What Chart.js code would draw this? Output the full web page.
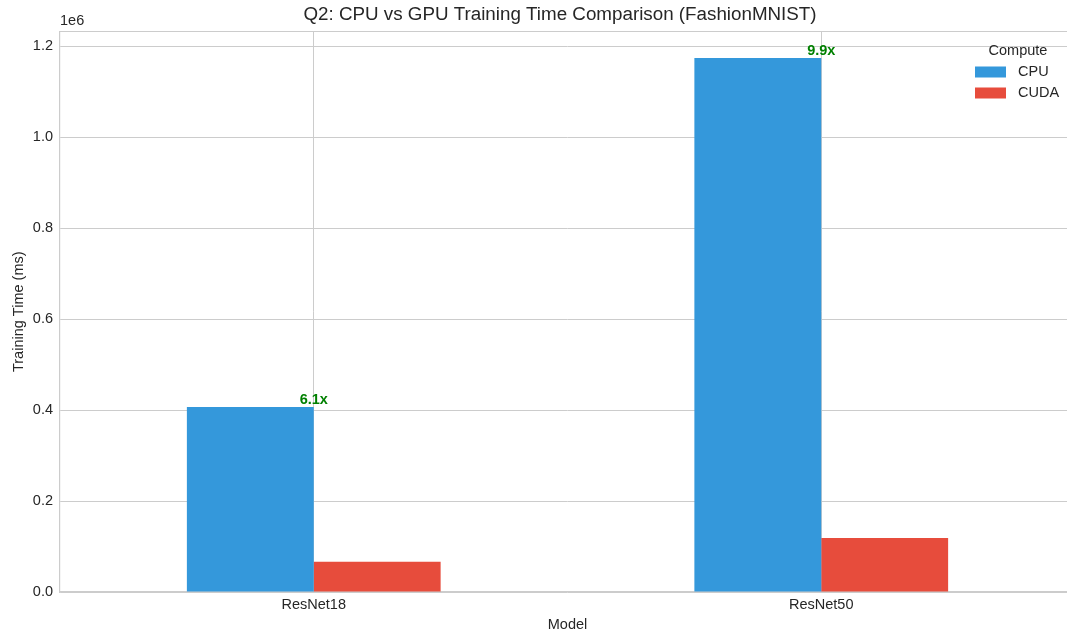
<!DOCTYPE html>
<html>
<head>
<meta charset="utf-8">
<script src="https://cdn.jsdelivr.net/npm/chart.js@4.4.1/dist/chart.umd.min.js"></script>
<style>
    html, body { margin: 0; padding: 0; background: #fff; overflow: hidden; }
    #wrap { width: 1075px; height: 634px; }
</style>
</head>
<body>
<div id="wrap"><canvas id="timeChart" width="1075" height="634"></canvas></div>
<script>
// data
const models = ['ResNet18', 'ResNet50'];
const cpuTimes = [406500, 1173500];
const cudaTimes = [66600, 118500];
const speedupLabels = ['6.1x', '9.9x'];
const yTicks = [0, 200000, 400000, 600000, 800000, 1000000, 1200000];
const yMax = 1232000;

const FONT = '"Liberation Sans", Arial, sans-serif';
const TEXT = '#262626';
const GRID = '#cccccc';

// title, offset label, top spine, speedup notes and the legend
const extrasPlugin = {
    id: 'extras',
    afterDraw(chart) {
        const ctx = chart.ctx;
        const area = chart.chartArea;
        const x = chart.scales.x;
        const y = chart.scales.y;
        ctx.save();

        // top spine
        ctx.strokeStyle = GRID;
        ctx.lineWidth = 1.2;
        ctx.beginPath();
        ctx.moveTo(area.left, area.top);
        ctx.lineTo(area.right, area.top);
        ctx.stroke();

        ctx.fillStyle = TEXT;
        ctx.font = '18.8px ' + FONT;
        ctx.textAlign = 'center';
        ctx.textBaseline = 'middle';
        ctx.fillText('Q2: CPU vs GPU Training Time Comparison (FashionMNIST)', 560, 15);

        ctx.font = '14.5px ' + FONT;
        ctx.textAlign = 'left';
        ctx.fillText('1e6', area.left, 21);

        // speedup notes above the CPU bars
        ctx.fillStyle = '#008000';
        ctx.font = 'bold 14.5px ' + FONT;
        ctx.textAlign = 'center';
        ctx.textBaseline = 'alphabetic';
        models.forEach((m, i) => {
            ctx.fillText(speedupLabels[i], x.getPixelForValue(i), y.getPixelForValue(cpuTimes[i]) - 3);
        });

        // legend
        const lx = 975;
        ctx.fillStyle = TEXT;
        ctx.font = '14.5px ' + FONT;
        ctx.textAlign = 'center';
        ctx.textBaseline = 'middle';
        ctx.fillText('Compute', 1018, 51);
        ctx.textAlign = 'left';
        chart.data.datasets.forEach((ds, i) => {
            const cy = 72 + i * 21;
            ctx.fillStyle = ds.backgroundColor;
            ctx.fillRect(lx, cy - 5.5, 31, 11);
            ctx.fillStyle = TEXT;
            ctx.fillText(ds.label, 1018, cy);
        });
        ctx.restore();
    }
};

const ctx = document.getElementById('timeChart').getContext('2d');
new Chart(ctx, {
    type: 'bar',
    data: {
        labels: models,
        datasets: [
            { label: 'CPU', data: cpuTimes, backgroundColor: '#3498db' },
            { label: 'CUDA', data: cudaTimes, backgroundColor: '#e74c3c' }
        ]
    },
    options: {
        responsive: false,
        animation: false,
        layout: { padding: { top: 31.5, left: 0, right: 0, bottom: 0 } },
        datasets: {
            bar: { categoryPercentage: 0.5, barPercentage: 1.0, borderWidth: 0 }
        },
        plugins: {
            legend: { display: false },
            tooltip: { enabled: false }
        },
        scales: {
            x: {
                afterFit: (scale) => { scale.height = 42; },
                grid: { offset: false, color: GRID, lineWidth: 1, drawTicks: false },
                border: { color: GRID, width: 1.2 },
                ticks: { color: TEXT, font: { family: FONT, size: 14.5 }, padding: 4 },
                title: {
                    display: true, text: 'Model', color: TEXT,
                    font: { family: FONT, size: 14.5 }, padding: { top: 2, bottom: 0 }
                }
            },
            y: {
                min: 0,
                max: yMax,
                afterFit: (scale) => { scale.width = 60; },
                afterBuildTicks: (scale) => { scale.ticks = yTicks.map(v => ({ value: v })); },
                grid: { color: GRID, lineWidth: 1, drawTicks: false },
                border: { color: GRID, width: 1.2 },
                ticks: {
                    color: TEXT, font: { family: FONT, size: 14.5 }, padding: 7,
                    callback: (v) => (v / 1e6).toFixed(1)
                },
                title: {
                    display: true, text: 'Training Time (ms)', color: TEXT,
                    font: { family: FONT, size: 14.5 }, padding: { top: 10, bottom: 0 }
                }
            }
        }
    },
    plugins: [extrasPlugin]
});
</script>
</body>
</html>
